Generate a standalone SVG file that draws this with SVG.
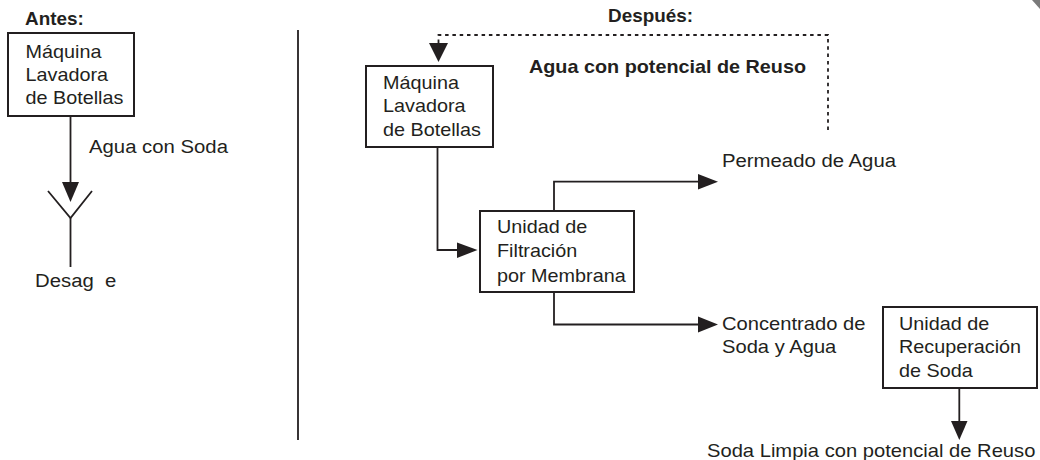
<svg xmlns="http://www.w3.org/2000/svg" width="1040" height="460" viewBox="0 0 1040 460">
<style>
.t{font-family:"Liberation Sans",Arial,sans-serif;font-size:18px;fill:#231f20}
.b{font-weight:bold}
.box{fill:#fff;stroke:#231f20;stroke-width:2}
.ln{fill:none;stroke:#231f20;stroke-width:1.8}
.dash{fill:none;stroke:#231f20;stroke-width:1.8;stroke-dasharray:3.5 3.8}
.ah{fill:#231f20}
</style>
<rect width="1040" height="460" fill="#fff"/>
<polygon points="1032,0 1040,0 1040,9" fill="#7a7a7a"/>
<line class="ln" x1="298" y1="30" x2="298" y2="440" stroke-width="2"/>
<text class="t b" transform="translate(25,25) scale(1.05,1)">Antes:</text>
<text class="t b" transform="translate(608,22) scale(1.05,1)">Después:</text>
<text class="t b" transform="translate(529,73) scale(1.1,1)">Agua con potencial de Reuso</text>

<g id="connectors">
  <line class="ln" x1="70.5" y1="116" x2="70.5" y2="184"/>
  <polygon class="ah" points="62,182 79,182 70.5,202"/>
  <path class="dash" d="M438.5,43 V35 H828 V130"/>
  <polygon class="ah" points="429,43 448,43 438.5,62"/>
  <path class="ln" d="M437.5,147 V250 H460"/>
  <polygon class="ah" points="457,242.5 477.5,250 457,258"/>
  <path class="ln" d="M554,211 V181.7 H700"/>
  <polygon class="ah" points="698,174 718,181.7 698,189.5"/>
  <path class="ln" d="M554,292 V324.5 H700"/>
  <polygon class="ah" points="698,316.5 718,324.5 698,332.5"/>
  <line class="ln" x1="959.3" y1="388" x2="959.3" y2="424"/>
  <polygon class="ah" points="951,421 967.5,421 959.3,440"/>
</g>

<g id="label-agua-soda"><text class="t" transform="translate(89,153) scale(1.13,1)">Agua con Soda</text></g>

<g id="drain">
  <polyline class="ln" points="48,191 70.5,218 92,191"/>
  <line class="ln" x1="70.5" y1="218" x2="70.5" y2="267"/>
  <text class="t" transform="translate(35,287) scale(1.13,1)" word-spacing="5">Desag e</text>
</g>

<g id="maquina-antes">
  <rect class="box" x="8" y="33" width="126" height="83"/>
  <text class="t" transform="translate(25.5,57.5) scale(1.1,1)"><tspan x="0">Máquina</tspan><tspan x="0" dy="23.5">Lavadora</tspan><tspan x="0" dy="23.5">de Botellas</tspan></text>
</g>

<g id="maquina-despues">
  <rect class="box" x="366" y="66" width="127" height="81"/>
  <text class="t" transform="translate(383,89) scale(1.1,1)"><tspan x="0">Máquina</tspan><tspan x="0" dy="23.3">Lavadora</tspan><tspan x="0" dy="23.3">de Botellas</tspan></text>
</g>

<g id="filtracion">
  <rect class="box" x="480" y="211" width="154" height="81"/>
  <text class="t" transform="translate(497,233.3) scale(1.1,1)"><tspan x="0">Unidad de</tspan><tspan x="0" dy="24.2">Filtración</tspan><tspan x="0" dy="24.2">por Membrana</tspan></text>
</g>

<g id="permeado"><text class="t" transform="translate(722,167) scale(1.13,1)">Permeado de Agua</text></g>

<g id="concentrado"><text class="t" transform="translate(722,330) scale(1.12,1)"><tspan x="0">Concentrado de</tspan><tspan x="0" dy="23.3">Soda y Agua</tspan></text></g>

<g id="recuperacion">
  <rect class="box" x="883" y="307" width="154" height="81"/>
  <text class="t" transform="translate(899,330) scale(1.1,1)"><tspan x="0">Unidad de</tspan><tspan x="0" dy="23.5">Recuperación</tspan><tspan x="0" dy="23.5">de Soda</tspan></text>
</g>

<g id="soda-limpia"><text class="t" transform="translate(707,457) scale(1.12,1)">Soda Limpia con potencial de Reuso</text></g>
</svg>
